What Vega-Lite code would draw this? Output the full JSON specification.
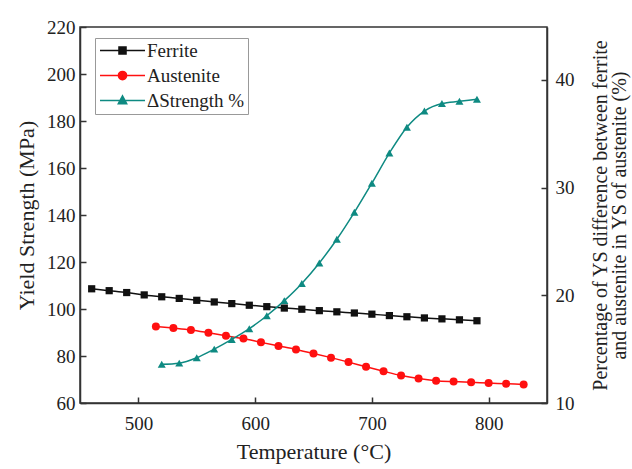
{
  "$schema": "https://vega.github.io/schema/vega-lite/v6.json",
  "width": 467,
  "height": 376,
  "autosize": {"type": "none"},
  "padding": {"left": 80, "top": 27, "right": 85, "bottom": 66},
  "background": "white",
  "config": {
    "font": "Liberation Serif",
    "view": {"stroke": "#333333", "strokeWidth": 1.5},
    "axis": {
      "grid": false,
      "labelFont": "Liberation Serif",
      "titleFont": "Liberation Serif",
      "labelFontSize": 19,
      "titleFontSize": 22,
      "titleFontWeight": "normal",
      "labelColor": "#222222",
      "titleColor": "#222222",
      "domainColor": "#333333",
      "tickColor": "#333333",
      "domainWidth": 1.5,
      "tickWidth": 1.5,
      "tickSize": -6
    },
    "legend": {
      "labelFont": "Liberation Serif",
      "labelFontSize": 19,
      "labelColor": "#222222"
    }
  },
  "data": {
    "values": [
      {"series": "Ferrite", "T": 460, "v": 108.6},
      {"series": "Ferrite", "T": 475, "v": 107.8},
      {"series": "Ferrite", "T": 490, "v": 107.0},
      {"series": "Ferrite", "T": 505, "v": 106.0},
      {"series": "Ferrite", "T": 520, "v": 105.2},
      {"series": "Ferrite", "T": 535, "v": 104.5},
      {"series": "Ferrite", "T": 550, "v": 103.7},
      {"series": "Ferrite", "T": 565, "v": 103.0},
      {"series": "Ferrite", "T": 580, "v": 102.3},
      {"series": "Ferrite", "T": 595, "v": 101.6},
      {"series": "Ferrite", "T": 610, "v": 101.0},
      {"series": "Ferrite", "T": 625, "v": 100.4},
      {"series": "Ferrite", "T": 640, "v": 99.9},
      {"series": "Ferrite", "T": 655, "v": 99.3},
      {"series": "Ferrite", "T": 670, "v": 98.8},
      {"series": "Ferrite", "T": 685, "v": 98.3},
      {"series": "Ferrite", "T": 700, "v": 97.8},
      {"series": "Ferrite", "T": 715, "v": 97.2},
      {"series": "Ferrite", "T": 730, "v": 96.7},
      {"series": "Ferrite", "T": 745, "v": 96.2},
      {"series": "Ferrite", "T": 760, "v": 95.8},
      {"series": "Ferrite", "T": 775, "v": 95.4},
      {"series": "Ferrite", "T": 790, "v": 95.0},
      {"series": "Austenite", "T": 515, "v": 92.6},
      {"series": "Austenite", "T": 530, "v": 91.9},
      {"series": "Austenite", "T": 545, "v": 91.1},
      {"series": "Austenite", "T": 560, "v": 89.9},
      {"series": "Austenite", "T": 575, "v": 88.6},
      {"series": "Austenite", "T": 590, "v": 87.4},
      {"series": "Austenite", "T": 605, "v": 85.8},
      {"series": "Austenite", "T": 620, "v": 84.3},
      {"series": "Austenite", "T": 635, "v": 82.8},
      {"series": "Austenite", "T": 650, "v": 81.1},
      {"series": "Austenite", "T": 665, "v": 79.3},
      {"series": "Austenite", "T": 680, "v": 77.4},
      {"series": "Austenite", "T": 695, "v": 75.4},
      {"series": "Austenite", "T": 710, "v": 73.5},
      {"series": "Austenite", "T": 725, "v": 71.7},
      {"series": "Austenite", "T": 740, "v": 70.4},
      {"series": "Austenite", "T": 755, "v": 69.5},
      {"series": "Austenite", "T": 770, "v": 69.1},
      {"series": "Austenite", "T": 785, "v": 68.8},
      {"series": "Austenite", "T": 800, "v": 68.5},
      {"series": "Austenite", "T": 815, "v": 68.2},
      {"series": "Austenite", "T": 830, "v": 67.9},
      {"series": "ΔStrength %", "T": 520, "v": 13.6},
      {"series": "ΔStrength %", "T": 535, "v": 13.7},
      {"series": "ΔStrength %", "T": 550, "v": 14.2},
      {"series": "ΔStrength %", "T": 565, "v": 15.0},
      {"series": "ΔStrength %", "T": 580, "v": 15.9},
      {"series": "ΔStrength %", "T": 595, "v": 16.9},
      {"series": "ΔStrength %", "T": 610, "v": 18.1},
      {"series": "ΔStrength %", "T": 625, "v": 19.5},
      {"series": "ΔStrength %", "T": 640, "v": 21.1},
      {"series": "ΔStrength %", "T": 655, "v": 23.0},
      {"series": "ΔStrength %", "T": 670, "v": 25.2},
      {"series": "ΔStrength %", "T": 685, "v": 27.7},
      {"series": "ΔStrength %", "T": 700, "v": 30.4},
      {"series": "ΔStrength %", "T": 715, "v": 33.2},
      {"series": "ΔStrength %", "T": 730, "v": 35.6},
      {"series": "ΔStrength %", "T": 745, "v": 37.1},
      {"series": "ΔStrength %", "T": 760, "v": 37.8},
      {"series": "ΔStrength %", "T": 775, "v": 38.0},
      {"series": "ΔStrength %", "T": 790, "v": 38.2}
    ]
  },
  "encoding": {
    "x": {
      "field": "T",
      "type": "quantitative",
      "scale": {"domain": [450, 850], "nice": false, "zero": false},
      "axis": {
        "title": "Temperature (°C)",
        "values": [500, 600, 700, 800],
        "labelPadding": 17,
        "titlePadding": 8
      }
    }
  },
  "layer": [
    {
      "encoding": {
        "y": {
          "field": "v",
          "type": "quantitative",
          "scale": {"domain": [60, 220], "nice": false, "zero": false},
          "axis": {
            "orient": "left",
            "title": "Yield Strength (MPa)",
            "values": [60, 80, 100, 120, 140, 160, 180, 200, 220],
            "labelPadding": 11,
            "titlePadding": 8
          }
        }
      },
      "layer": [
        {
          "transform": [{"filter": "datum.series === 'Ferrite'"}],
          "mark": {"type": "line", "interpolate": "monotone", "strokeWidth": 1.5, "color": "#111111"}
        },
        {
          "transform": [{"filter": "datum.series === 'Ferrite'"}],
          "mark": {"type": "point", "shape": "square", "filled": true, "opacity": 1, "size": 52, "color": "#111111"}
        },
        {
          "transform": [{"filter": "datum.series === 'Austenite'"}],
          "mark": {"type": "line", "interpolate": "monotone", "strokeWidth": 1.5, "color": "#ff1010"}
        },
        {
          "transform": [{"filter": "datum.series === 'Austenite'"}],
          "mark": {"type": "point", "shape": "circle", "filled": true, "opacity": 1, "size": 64, "color": "#ff1010"}
        },
        {
          "transform": [{"filter": "datum.T < 0"}],
          "mark": {"type": "point", "filled": true, "opacity": 1},
          "encoding": {
            "fill": {
              "field": "series",
              "type": "nominal",
              "scale": {
                "domain": ["Ferrite", "Austenite", "ΔStrength %"],
                "range": ["#111111", "#ff1010", "#0e8a82"]
              },
              "legend": {
                "title": null,
                "orient": "none",
                "legendX": 15,
                "legendY": 11,
                "padding": 3,
                "strokeColor": "#999999",
                "fillColor": "white",
                "symbolSize": 225,
                "symbolOpacity": 1,
                "symbolStrokeWidth": 1.5,
                "labelOffset": 30,
                "rowPadding": 5,
                "labelFont": "Liberation Serif",
                "labelFontSize": 19,
                "labelColor": "#222222"
              }
            },
            "stroke": {
              "field": "series",
              "type": "nominal",
              "scale": {
                "domain": ["Ferrite", "Austenite", "ΔStrength %"],
                "range": ["#111111", "#ff1010", "#0e8a82"]
              },
              "legend": {
                "title": null,
                "orient": "none",
                "legendX": 15,
                "legendY": 11,
                "labelFont": "Liberation Serif",
                "labelFontSize": 19
              }
            },
            "shape": {
              "field": "series",
              "type": "nominal",
              "scale": {
                "domain": ["Ferrite", "Austenite", "ΔStrength %"],
                "range": [
                  "M-1,0H5M1.53,-0.47H2.47V0.47H1.53Z",
                  "M-1,0H5M2.55,0A0.55,0.55,0,1,1,1.45,0A0.55,0.55,0,1,1,2.55,0Z",
                  "M-1,0H5M2,-0.62L2.56,0.42H1.44Z"
                ]
              },
              "legend": {
                "title": null,
                "orient": "none",
                "legendX": 15,
                "legendY": 11,
                "labelFont": "Liberation Serif",
                "labelFontSize": 19
              }
            }
          }
        }
      ]
    },
    {
      "transform": [{"filter": "datum.series === 'ΔStrength %'"}],
      "encoding": {
        "y": {
          "field": "v",
          "type": "quantitative",
          "scale": {"domain": [10, 44.9], "nice": false, "zero": false},
          "axis": {
            "orient": "right",
            "title": ["Percentage of YS difference between ferrite", "and austenite in YS of austenite (%)"],
            "titleFontSize": 20,
            "titleLineHeight": 19,
            "titleAngle": 270,
            "values": [10, 20, 30, 40],
            "labelPadding": 14,
            "titlePadding": 17
          }
        }
      },
      "layer": [
        {"mark": {"type": "line", "interpolate": "monotone", "strokeWidth": 1.5, "color": "#0e8a82"}},
        {"mark": {"type": "point", "shape": "triangle-up", "filled": true, "opacity": 1, "size": 64, "color": "#0e8a82"}}
      ]
    }
  ],
  "resolve": {"scale": {"y": "independent"}, "axis": {"y": "independent"}}
}
